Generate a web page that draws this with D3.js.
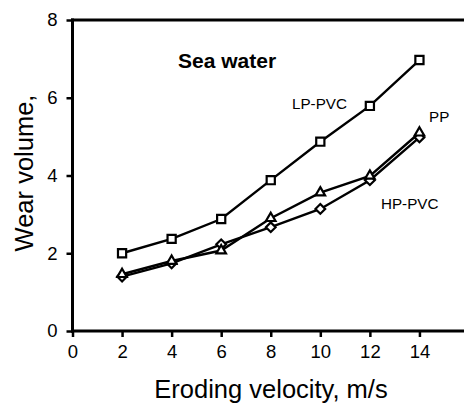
<!DOCTYPE html>
<html>
<head>
<meta charset="utf-8">
<script src="https://cdn.jsdelivr.net/npm/d3@7"></script>
<style>
  body { margin: 0; background: #fff; }
  text { font-family: Arial, "Liberation Sans", sans-serif; fill: #000; }
</style>
</head>
<body>
<svg class="svg1" width="464" height="404"></svg>
<script>
var velocity = [2, 4, 6, 8, 10, 12, 14];
var lpPvc = [2.0, 2.37, 2.88, 3.88, 4.87, 5.79, 6.97];
var pp    = [1.46, 1.8, 2.07, 2.9, 3.56, 3.99, 5.1];
var hpPvc = [1.4, 1.74, 2.23, 2.67, 3.14, 3.88, 4.98];
var xTicks = [0, 2, 4, 6, 8, 10, 12, 14];
var yTicks = [0, 2, 4, 6, 8];

var svg1 = d3.select(".svg1");
var width = +svg1.attr("width");

var scaleX = d3.scaleLinear().domain([0, 16]).range([72.5, 469]);
var scaleY = d3.scaleLinear().domain([0, 8]).range([331, 20]);

// plot frame as filled bars (right edge falls just outside the picture)
var frameW = 3;
svg1.append("rect")   // top
    .attr("x", scaleX(0) - frameW / 2)
    .attr("y", scaleY(8) - frameW / 2)
    .attr("width", width - scaleX(0) + frameW)
    .attr("height", frameW)
    .attr("fill", "#000");
svg1.append("rect")   // bottom
    .attr("x", scaleX(0) - frameW / 2)
    .attr("y", scaleY(0) - frameW / 2)
    .attr("width", width - scaleX(0) + frameW)
    .attr("height", frameW)
    .attr("fill", "#000");
svg1.append("rect")   // left
    .attr("x", scaleX(0) - frameW / 2)
    .attr("y", scaleY(8) - frameW / 2)
    .attr("width", frameW)
    .attr("height", scaleY(0) - scaleY(8) + frameW)
    .attr("fill", "#000");

var xAxis = d3.axisBottom(scaleX).tickValues(xTicks).tickSize(6).tickSizeOuter(0).tickPadding(8);
var yAxis = d3.axisLeft(scaleY).tickValues(yTicks).tickSize(6).tickSizeOuter(0).tickPadding(9);

var gx = svg1.append("g")
    .attr("transform", "translate(0," + scaleY(0) + ")")
    .call(xAxis);
var gy = svg1.append("g")
    .attr("transform", "translate(" + scaleX(0) + ",0)")
    .call(yAxis);

[gx, gy].forEach(function(g) {
    g.select(".domain").remove();
    g.selectAll("line").attr("stroke", "#000").attr("stroke-width", 2.5);
    g.selectAll("text")
        .style("font-family", "Arial, 'Liberation Sans', sans-serif")
        .style("font-size", "18.5px")
        .attr("fill", "#000");
});

svg1.append("text")
    .attr("x", 271)
    .attr("y", 398)
    .attr("text-anchor", "middle")
    .style("font-size", "25.5px")
    .text("Eroding velocity, m/s");

svg1.append("text")
    .attr("transform", "translate(33,173) rotate(-90)")
    .attr("text-anchor", "middle")
    .style("font-size", "25.5px")
    .text("Wear volume,");

var line = d3.line()
    .x(function(d, i) { return scaleX(velocity[i]); })
    .y(function(d) { return scaleY(d); });

var series = [
    { values: hpPvc, symbol: d3.symbolDiamond2, size: 60 },
    { values: pp, symbol: d3.symbolTriangle2, size: 65 },
    { values: lpPvc, symbol: d3.symbolSquare2, size: 85 }
];

series.forEach(function(s) {
    svg1.append("path")
        .attr("d", line(s.values))
        .attr("fill", "none")
        .attr("stroke", "#000")
        .attr("stroke-width", 2.4);
});

series.forEach(function(s) {
    svg1.selectAll(null)
        .data(s.values)
        .enter()
        .append("path")
        .attr("d", d3.symbol().type(s.symbol).size(s.size))
        .attr("transform", function(d, i) {
            return "translate(" + scaleX(velocity[i]) + "," + scaleY(d) + ")";
        })
        .attr("fill", "#fff")
        .attr("stroke", "#000")
        .attr("stroke-width", 2.2);
});

svg1.append("text")
    .attr("x", 178)
    .attr("y", 68)
    .style("font-size", "21px")
    .style("font-weight", "bold")
    .text("Sea water");

svg1.append("text").attr("x", 292).attr("y", 109).style("font-size", "15.2px").text("LP-PVC");
svg1.append("text").attr("x", 429).attr("y", 122).style("font-size", "15.2px").text("PP");
svg1.append("text").attr("x", 381).attr("y", 209).style("font-size", "15.2px").text("HP-PVC");
</script>
</body>
</html>
